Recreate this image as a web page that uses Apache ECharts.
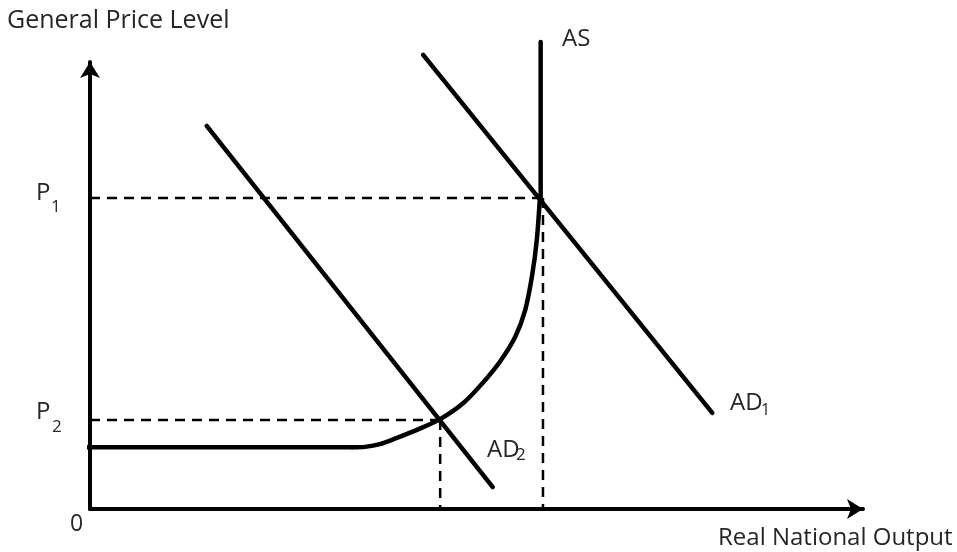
<!DOCTYPE html>
<html>
<head>
<meta charset="utf-8">
<script src="https://cdn.jsdelivr.net/npm/echarts@6/dist/echarts.min.js"></script>
<style>
  html, body { margin: 0; padding: 0; background: #fff; }
  #chart { width: 957px; height: 552px; }
</style>
</head>
<body>
<div id="chart"></div>
<script>
// curve points, in axis units (0-100 on both axes)
const asFlat = [[-0.5, 13.8], [33.9, 13.8]];
const asCurve = [
  [33.9, 13.8], [35.6, 13.9], [37.5, 14.5], [39.7, 15.9], [42.3, 17.7],
  [45.3, 20.1], [48.3, 23.7], [50.8, 28.2], [53.0, 32.9], [55.0, 38.5],
  [56.3, 44.5], [57.2, 52.3], [57.8, 60.2], [58.2, 69.6]
];
const asVertical = [[58.3, 69.6], [58.3, 104.5]];
const ad1 = [[43.1, 101.6], [80.5, 21.5]];
const ad2 = [[15.1, 85.7], [52.1, 4.9]];

const p1 = 69.6, q1 = 58.6;
const p2 = 19.9, q2 = 45.3;

const FONT = '"Open Sans", sans-serif';
const TXT = '#262626';

const chart = echarts.init(document.getElementById('chart'));

function solid(name, data, smooth) {
  return {
    name, type: 'line', data, smooth: smooth || false, symbol: 'none',
    clip: false, silent: true,
    lineStyle: { color: '#000', width: 4.5, cap: 'round', join: 'round' }
  };
}
function dashed(name, data) {
  return {
    name, type: 'line', data, symbol: 'none', clip: false, silent: true,
    lineStyle: { color: '#000', width: 2.5, type: [10, 7] }
  };
}
function label(x, y, text, size) {
  return {
    type: 'text', x, y,
    style: { text, font: size + 'px ' + FONT, fill: TXT, textVerticalAlign: 'middle' }
  };
}

chart.setOption({
  animation: false,
  backgroundColor: '#fff',
  grid: { left: 90, top: 62, right: 94, bottom: 43 },
  xAxis: {
    type: 'value', min: 0, max: 100,
    axisLine: { show: true, symbol: ['none', 'arrow'], symbolSize: [15, 16],
      lineStyle: { color: '#000', width: 4 } },
    axisTick: { show: false }, axisLabel: { show: false }, splitLine: { show: false }
  },
  yAxis: {
    type: 'value', min: 0, max: 100,
    axisLine: { show: true, symbol: ['none', 'arrow'], symbolSize: [15, 16],
      lineStyle: { color: '#000', width: 4 } },
    axisTick: { show: false }, axisLabel: { show: false }, splitLine: { show: false }
  },
  series: [
    dashed('p1h', [[0, p1], [q1 - 0.4, p1]]),
    dashed('p1v', [[q1, p1], [q1, 0]]),
    dashed('p2h', [[0, p2], [q2, p2]]),
    dashed('p2v', [[q2, p2], [q2, 0]]),
    solid('asFlat', asFlat),
    solid('asCurve', asCurve, 0.3),
    solid('asVertical', asVertical),
    solid('AD1', ad1),
    solid('AD2', ad2)
  ],
  graphic: [
    label(7, 21, 'General Price Level', 25),
    label(562, 39, 'AS', 24),
    label(36, 193, 'P', 24),
    label(51, 207, '1', 17),
    label(36, 412, 'P', 24),
    label(52, 427, '2', 17),
    label(70, 524, '0', 23),
    label(730, 403, 'AD', 24),
    label(761, 410, '1', 16),
    label(487, 450, 'AD', 24),
    label(516, 455, '2', 17),
    label(718, 538, 'Real National Output', 24)
  ]
});
</script>
</body>
</html>
